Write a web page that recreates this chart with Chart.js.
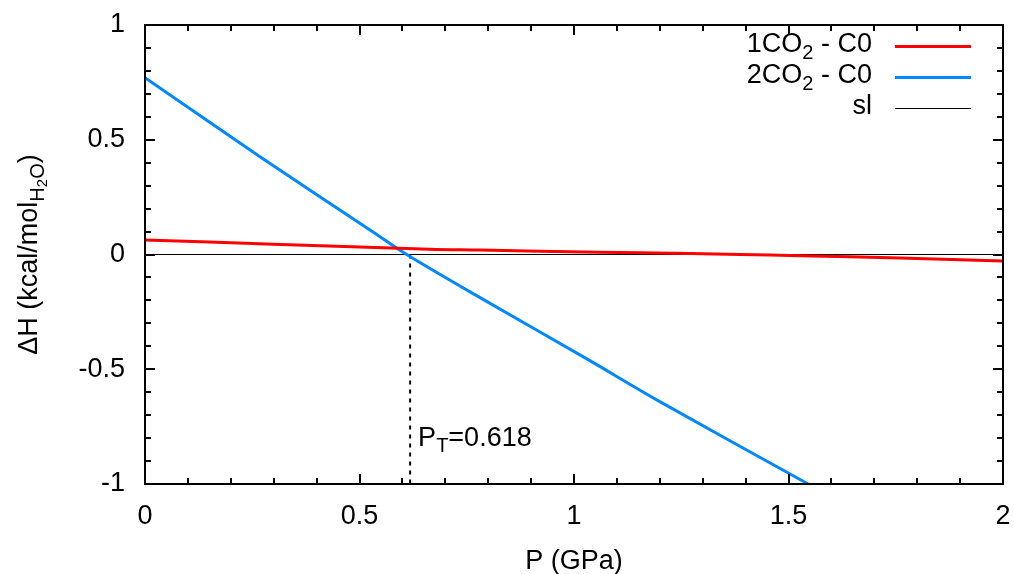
<!DOCTYPE html>
<html>
<head>
<meta charset="utf-8">
<script src="https://cdn.jsdelivr.net/npm/chart.js@4.4.1/dist/chart.umd.min.js"></script>
<style>
    html, body { margin: 0; padding: 0; background: white; }
    #wrap { width: 1014px; height: 574px; }
</style>
</head>
<body>
<div id="wrap"><canvas id="dhChart"></canvas></div>
<script>
// P in GPa, dH in kcal/mol
const redP = [0, 0.3, 0.664, 0.781, 1.06, 1.154, 1.387, 1.527, 1.76, 2];
const redH = [0.063, 0.045, 0.023, 0.0196, 0.0096, 0.008, 0.0, -0.005, -0.015, -0.028];

const blueP = [0, 0.268, 0.5245, 0.61, 0.781, 1.03, 1.2, 1.546];
const blueH = [0.77, 0.426, 0.107, 0.0, -0.188, -0.455, -0.641, -1.0];

const slP = [0, 2];
const slH = [0, 0];

const transitionP = 0.618;

const xTicks = [0, 0.5, 1, 1.5, 2];
const yTicks = [-1, -0.5, 0, 0.5, 1];

const fontFamily = '"Liberation Sans", Arial, sans-serif';
const fontSize = 27;
const subSize = 20;
const subSubSize = 15;

function toPoints(xs, ys) {
    return xs.map((x, i) => ({ x: x, y: ys[i] }));
}

// text with sub/subsub levels: parts = [[text, level], ...]
function sizeFor(level) {
    return level === 0 ? fontSize : (level === 1 ? subSize : subSubSize);
}
function shiftFor(level) {
    return level === 0 ? 0 : (level === 1 ? 8 : 13);
}
function drawParts(ctx, parts, x, y, align) {
    let total = 0;
    parts.forEach(p => {
        ctx.font = sizeFor(p[1]) + 'px ' + fontFamily;
        total += ctx.measureText(p[0]).width;
    });
    let cx = align === 'right' ? x - total : (align === 'center' ? x - total / 2 : x);
    parts.forEach(p => {
        ctx.font = sizeFor(p[1]) + 'px ' + fontFamily;
        ctx.fillText(p[0], cx, y + shiftFor(p[1]));
        cx += ctx.measureText(p[0]).width;
    });
}

const gnuplotFrame = {
    id: 'gnuplotFrame',
    afterDatasetsDraw(chart) {
        const ctx = chart.ctx;
        const a = chart.chartArea;
        const xs = chart.scales.x;
        const ys = chart.scales.y;
        ctx.save();
        ctx.strokeStyle = 'black';
        ctx.lineWidth = 2;
        ctx.strokeRect(a.left, a.top, a.right - a.left, a.bottom - a.top);

        // inward ticks on all four sides
        for (let i = 0; i <= 20; i++) {
            const v = i / 10;
            const len = i % 5 === 0 ? 10 : 6;
            const px = Math.round(xs.getPixelForValue(v));
            ctx.beginPath();
            ctx.moveTo(px, a.bottom); ctx.lineTo(px, a.bottom - len);
            ctx.moveTo(px, a.top); ctx.lineTo(px, a.top + len);
            ctx.stroke();
        }
        for (let i = -10; i <= 10; i++) {
            const v = i / 10;
            const len = i % 5 === 0 ? 10 : 6;
            const py = Math.round(ys.getPixelForValue(v));
            ctx.beginPath();
            ctx.moveTo(a.left, py); ctx.lineTo(a.left + len, py);
            ctx.moveTo(a.right, py); ctx.lineTo(a.right - len, py);
            ctx.stroke();
        }

        ctx.fillStyle = 'black';
        ctx.textBaseline = 'middle';

        // transition label
        drawParts(ctx, [['P', 0], ['T', 1], ['=0.618', 0]],
            xs.getPixelForValue(transitionP) + 8, ys.getPixelForValue(-0.8), 'left');

        // legend
        const legendRows = [
            { parts: [['1CO', 0], ['2', 1], [' - C0', 0]], color: 'rgb(255,0,0)', width: 3, y: 45 },
            { parts: [['2CO', 0], ['2', 1], [' - C0', 0]], color: 'rgb(0,136,255)', width: 3, y: 76 },
            { parts: [['sl', 0]], color: 'black', width: 1, y: 107 }
        ];
        legendRows.forEach(r => {
            drawParts(ctx, r.parts, 872, r.y, 'right');
            ctx.strokeStyle = r.color;
            ctx.lineWidth = r.width;
            ctx.beginPath();
            ctx.moveTo(895, r.y + 1.5);
            ctx.lineTo(971, r.y + 1.5);
            ctx.stroke();
        });

        // axis titles
        drawParts(ctx, [['P (GPa)', 0]], (a.left + a.right) / 2, 562, 'center');

        ctx.translate(30, (a.top + a.bottom) / 2);
        ctx.rotate(-Math.PI / 2);
        drawParts(ctx, [['ΔH (kcal/mol', 0], ['H', 1], ['2', 2], ['O', 1], [')', 0]], 0, 0, 'center');
        ctx.restore();
    }
};

const ctx = document.getElementById('dhChart').getContext('2d');
const dhChart = new Chart(ctx, {
    type: 'line',
    data: {
        datasets: [
            {
                label: '1CO2 - C0',
                data: toPoints(redP, redH),
                borderColor: 'rgb(255,0,0)',
                borderWidth: 3,
                pointRadius: 0,
                tension: 0.3
            },
            {
                label: '2CO2 - C0',
                data: toPoints(blueP, blueH),
                borderColor: 'rgb(0,136,255)',
                borderWidth: 3,
                pointRadius: 0,
                tension: 0.3
            },
            {
                label: 'sl',
                data: toPoints(slP, slH),
                borderColor: 'black',
                borderWidth: 1.2,
                pointRadius: 0
            },
            {
                label: 'PT',
                data: [{ x: transitionP, y: 0 }, { x: transitionP, y: -1 }],
                borderColor: 'black',
                borderWidth: 2,
                borderDash: [4, 5],
                pointRadius: 0
            }
        ]
    },
    options: {
        responsive: true,
        maintainAspectRatio: false,
        animation: false,
        layout: {
            padding: { top: 25, right: 11, left: 0, bottom: 0 }
        },
        scales: {
            x: {
                type: 'linear',
                min: 0,
                max: 2,
                afterFit: (scale) => {
                    scale.height = 90;
                    scale.paddingLeft = 0;
                    scale.paddingRight = 0;
                },
                afterBuildTicks: (scale) => { scale.ticks = xTicks.map(v => ({ value: v })); },
                ticks: {
                    color: 'black',
                    padding: 16,
                    font: { size: fontSize, family: fontFamily },
                    callback: (v) => String(v)
                },
                grid: { display: false, drawTicks: false },
                border: { color: 'black', width: 2 }
            },
            y: {
                type: 'linear',
                min: -1,
                max: 1,
                afterFit: (scale) => {
                    scale.width = 145;
                    scale.paddingTop = 0;
                    scale.paddingBottom = 0;
                },
                afterBuildTicks: (scale) => { scale.ticks = yTicks.map(v => ({ value: v })); },
                ticks: {
                    color: 'black',
                    padding: 20,
                    font: { size: fontSize, family: fontFamily },
                    callback: (v) => String(v)
                },
                grid: { display: false, drawTicks: false },
                border: { color: 'black', width: 2 }
            }
        },
        plugins: {
            legend: { display: false },
            tooltip: { enabled: false }
        }
    },
    plugins: [gnuplotFrame]
});
</script>
</body>
</html>
